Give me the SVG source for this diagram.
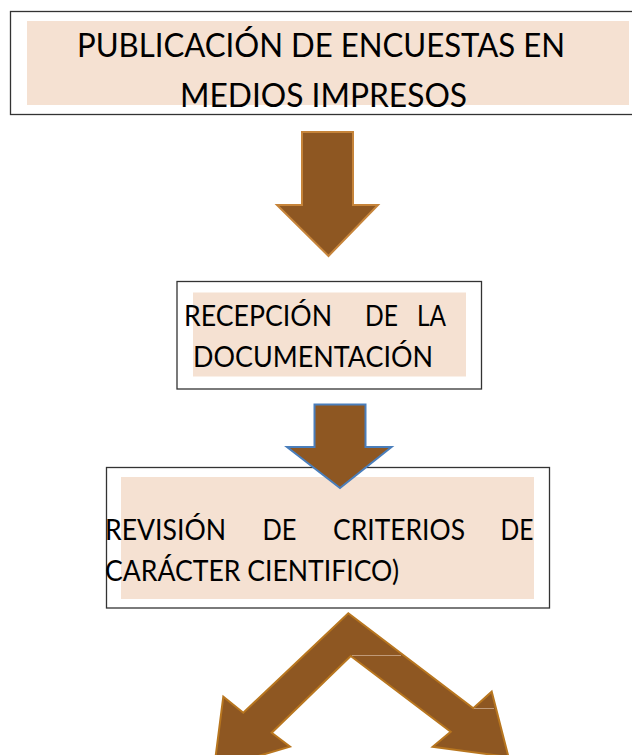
<svg xmlns="http://www.w3.org/2000/svg" width="632" height="755" viewBox="0 0 632 755">
<style>
.frame{fill:#ffffff;stroke:#333333;stroke-width:1.3}
.bg{fill:#F5E1D2;stroke:none}
.t{font-family:Lato,"Open Sans","Liberation Sans",sans-serif;fill:#000000}
.arrow{fill:#8E5722;stroke-linejoin:miter}
.seam{stroke:#C09A78;stroke-width:1;fill:none}
</style>
<g id="node-publicacion">
<rect class="frame" x="10.5" y="11.5" width="640" height="103"/>
<rect class="bg" x="27" y="21" width="602" height="84"/>
<text class="t" font-size="33"><tspan x="77" y="56.5" textLength="488" lengthAdjust="spacingAndGlyphs">PUBLICACIÓN DE ENCUESTAS EN</tspan><tspan x="180" y="106.5" textLength="287" lengthAdjust="spacingAndGlyphs">MEDIOS IMPRESOS</tspan></text>
</g>
<g id="node-recepcion">
<rect class="frame" x="177" y="281.5" width="304.5" height="107.5"/>
<rect class="bg" x="193" y="292.5" width="273" height="84"/>
<text class="t" font-size="28.5"><tspan x="184" y="325.5" textLength="148" lengthAdjust="spacingAndGlyphs">RECEPCIÓN</tspan><tspan x="365" y="325.5" textLength="33" lengthAdjust="spacingAndGlyphs">DE</tspan><tspan x="417" y="325.5" textLength="29" lengthAdjust="spacingAndGlyphs">LA</tspan><tspan x="193" y="367" textLength="240" lengthAdjust="spacingAndGlyphs">DOCUMENTACIÓN</tspan></text>
</g>
<g id="node-revision">
<rect class="frame" x="106.5" y="467.5" width="443" height="140.5"/>
<rect class="bg" x="121" y="477" width="413" height="122"/>
<text class="t" font-size="28.5"><tspan x="105" y="540" textLength="121" lengthAdjust="spacingAndGlyphs">REVISIÓN</tspan><tspan x="262.5" y="540" textLength="34" lengthAdjust="spacingAndGlyphs">DE</tspan><tspan x="333" y="540" textLength="132" lengthAdjust="spacingAndGlyphs">CRITERIOS</tspan><tspan x="500.5" y="540" textLength="33" lengthAdjust="spacingAndGlyphs">DE</tspan><tspan x="105" y="581" textLength="294" lengthAdjust="spacingAndGlyphs">CARÁCTER CIENTIFICO)</tspan></text>
</g>
<g id="connectors">
<polygon class="arrow" stroke="#C6843A" stroke-width="2" points="302,132 353,132 353,205 378,205 328.5,256 277,205 302,205"/>
<polygon class="arrow" stroke="#4A7EBB" stroke-width="2" points="314.5,404.5 365.5,404.5 365.5,447 391.5,447 340,488 287,447 314.5,447"/>
<polygon class="arrow" stroke="#B8761F" stroke-width="2" points="348.3,613.3 473.3,708.3 491.7,691.7 508.5,757 432.7,746.7 450.7,731.7 350.7,656 271.7,732.7 290,746.7 214,769 223.3,696.7 243.3,712.7"/>
<line class="seam" x1="352" y1="655.5" x2="401" y2="655.5"/>
<line class="seam" x1="474" y1="708.5" x2="494" y2="708.5"/>
</g>
</svg>
